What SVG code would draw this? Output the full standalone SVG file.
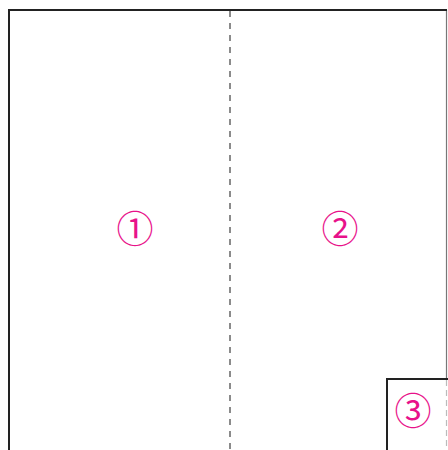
<svg xmlns="http://www.w3.org/2000/svg" width="448" height="450" viewBox="0 0 448 450">
<style>
.frame{fill:none;stroke:#222;stroke-width:2}
.dash{fill:none;stroke:#666;stroke-width:1.5;stroke-dasharray:6 6}
.lbl{font-family:"Noto Sans CJK JP","Noto Sans",sans-serif;font-size:37px;fill:#e8128a;text-anchor:middle;dominant-baseline:central}
</style>
<rect width="448" height="450" fill="#fff"/>
<g id="connectors">
<line class="dash" x1="230" y1="11" x2="230" y2="450"/>
<line x1="446.5" y1="10" x2="446.5" y2="378" stroke="#777" stroke-width="1.2"/>
<line x1="446.5" y1="380" x2="446.5" y2="450" stroke="#bbb" stroke-width="1.2" stroke-dasharray="6 4"/>
</g>
<g id="node1">
<path class="frame" d="M9 450 V10 H447"/>
<text class="lbl" x="135" y="227">①</text>
</g>
<g id="node2">
<text class="lbl" x="340" y="227">②</text>
</g>
<g id="node3">
<path class="frame" d="M387 450 V379 H448"/>
<text class="lbl" x="413" y="409">③</text>
</g>
</svg>
